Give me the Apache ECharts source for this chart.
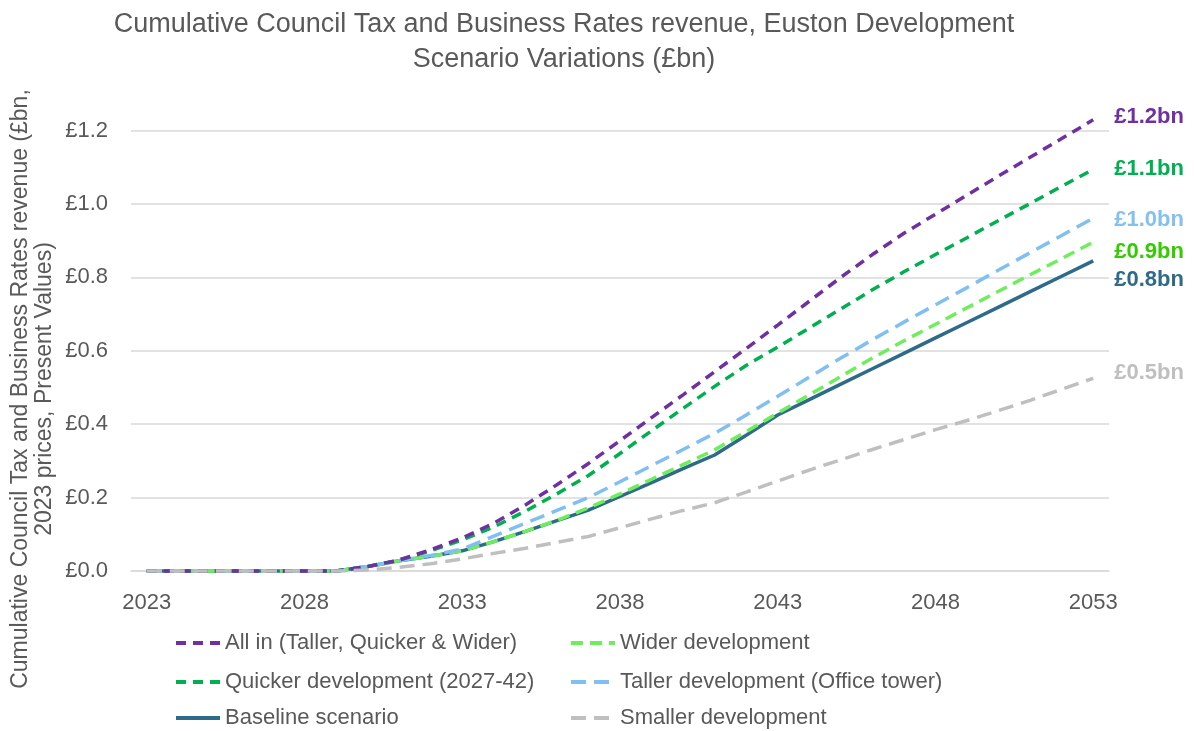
<!DOCTYPE html>
<html>
<head>
<meta charset="utf-8">
<script src="https://cdn.jsdelivr.net/npm/echarts@6/dist/echarts.min.js"></script>
<style>html,body{margin:0;padding:0;background:#fff}#c{width:1195px;height:731px}</style>
</head>
<body>
<div id="c"></div>
<script>
const years = [];
for (let y = 2023; y <= 2053; y++) years.push(String(y));

const seriesNames = [
  'All in (Taller, Quicker & Wider)',
  'Quicker development (2027-42)',
  'Baseline scenario',
  'Wider development',
  'Taller development (Office tower)',
  'Smaller development'
];

const allIn = [0,0,0,0,0,0,0,0.012,0.03,0.058,0.09,0.13,0.18,0.235,0.293,0.355,0.418,0.48,0.543,0.606,0.67,0.735,0.80,0.862,0.92,0.972,1.024,1.076,1.127,1.178,1.229];
const quicker = [0,0,0,0,0,0,0,0.012,0.03,0.055,0.085,0.12,0.163,0.21,0.26,0.32,0.382,0.443,0.503,0.56,0.61,0.662,0.714,0.766,0.815,0.862,0.908,0.955,1.001,1.048,1.094];
const baseline = [0,0,0,0,0,0,0,0.012,0.028,0.04,0.055,0.08,0.108,0.137,0.166,0.203,0.241,0.279,0.316,0.37,0.425,0.467,0.509,0.551,0.593,0.635,0.677,0.719,0.761,0.803,0.845];
const wider = [0,0,0,0,0,0,0,0.012,0.028,0.04,0.055,0.08,0.108,0.138,0.172,0.21,0.25,0.29,0.33,0.38,0.43,0.48,0.53,0.58,0.627,0.672,0.717,0.762,0.807,0.851,0.896];
const taller = [0,0,0,0,0,0,0,0.012,0.028,0.042,0.06,0.095,0.13,0.165,0.2,0.243,0.287,0.331,0.375,0.425,0.476,0.528,0.58,0.63,0.678,0.725,0.772,0.82,0.867,0.914,0.961];
const smaller = [0,0,0,0,0,0,0,0.003,0.01,0.02,0.033,0.048,0.062,0.078,0.094,0.118,0.142,0.165,0.186,0.215,0.245,0.275,0.303,0.331,0.358,0.385,0.41,0.437,0.465,0.495,0.525];

const endLabels = ['£1.2bn','£1.1bn','£0.8bn','£0.9bn','£1.0bn','£0.5bn'];

const FONT = '"Liberation Sans", Arial, sans-serif';
const GREY_TEXT = '#595959';

const styles = [
  {color:'#7030A0', label:'#7030A0', dash:[10,7], off:-3},
  {color:'#00B050', label:'#00B050', dash:[10,7], off:0},
  {color:'#2E6B8A', label:'#2E6B8A', dash:'solid', off:19},
  {color:'#6FEE5C', label:'#33CC00', dash:[12,7], off:10},
  {color:'#7FBFF2', label:'#85C0F0', dash:[15,8], off:2},
  {color:'#BFBFBF', label:'#BFBFBF', dash:[15,8], off:-5}
];
const dataSets = [allIn, quicker, baseline, wider, taller, smaller];
const zOrder = [6,5,2,3,4,7];

const series = dataSets.map((d, i) => ({
  name: seriesNames[i],
  type: 'line',
  data: d,
  symbol: 'none',
  showSymbol: false,
  clip: false,
  z: zOrder[i],
  itemStyle: {color: styles[i].color},
  lineStyle: {color: styles[i].color, width: 3.5, type: styles[i].dash, cap: 'butt'},
  endLabel: {
    show: true,
    formatter: () => endLabels[i],
    color: styles[i].label,
    fontFamily: FONT,
    fontSize: 22,
    fontWeight: 'bold',
    distance: 21,
    offset: [0, styles[i].off]
  }
}));

// legend placement: [left, centerY] for each series
const legendPos = [[174, 643], [174, 682], [174, 718], [569, 643], [569, 682], [569, 718]];
const legends = seriesNames.map((n, i) => ({
  left: legendPos[i][0],
  top: legendPos[i][1] - 11,
  data: [n],
  itemWidth: 44,
  itemHeight: 14,
  itemStyle: {opacity: 0},
  lineStyle: {width: 4},
  textStyle: {color: GREY_TEXT, fontFamily: FONT, fontSize: 22, lineHeight: 22},
  selectedMode: false,
  padding: 0
}));

const option = {
  animation: false,
  backgroundColor: '#fff',
  title: {
    text: 'Cumulative Council Tax and Business Rates revenue, Euston Development\nScenario Variations (£bn)',
    left: 559,
    textAlign: 'center',
    top: 2,
    textStyle: {color: GREY_TEXT, fontFamily: FONT, fontSize: 27, fontWeight: 'normal', lineHeight: 35}
  },
  graphic: [{
    type: 'text',
    x: 33,
    y: 389,
    rotation: Math.PI / 2,
    style: {
      text: 'Cumulative Council Tax and Business Rates revenue (£bn,\n2023 prices, Present Values)',
      fill: GREY_TEXT,
      font: '23px "Liberation Sans", Arial, sans-serif',
      lineHeight: 24,
      textAlign: 'center',
      textVerticalAlign: 'middle'
    }
  }],
  legend: legends,
  grid: {left: 131, right: 86, top: 130.5, bottom: 160, containLabel: false},
  xAxis: {
    type: 'category',
    data: years,
    boundaryGap: true,
    axisLine: {lineStyle: {color: '#D9D9D9', width: 1.5}},
    axisTick: {show: false},
    axisLabel: {interval: 4, color: GREY_TEXT, fontFamily: FONT, fontSize: 22, margin: 21},
    splitLine: {show: false}
  },
  yAxis: {
    type: 'value',
    min: 0,
    max: 1.2,
    interval: 0.2,
    axisLine: {show: false},
    axisTick: {show: false},
    axisLabel: {color: GREY_TEXT, fontFamily: FONT, fontSize: 22, margin: 23, formatter: v => '£' + v.toFixed(1)},
    splitLine: {lineStyle: {color: '#D9D9D9', width: 1.5}}
  },
  series: series
};

const chart = echarts.init(document.getElementById('c'), null, {renderer: 'canvas'});
chart.setOption(option);
</script>
</body>
</html>
